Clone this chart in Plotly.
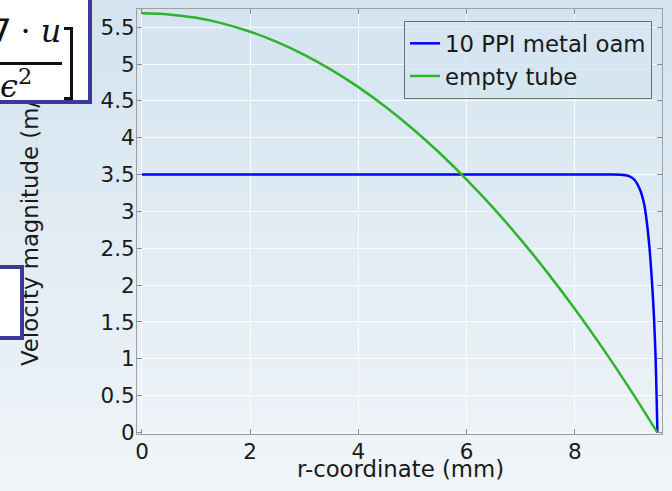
import plotly.graph_objects as go

# ---- data ----
r_tube = [0, 0.5, 1, 1.5, 2, 2.5, 3, 3.5, 4, 4.5, 5, 5.5, 6, 6.5, 7, 7.5, 8, 8.5, 9, 9.5, 9.525]
v_tube = [5.69, 5.674, 5.627, 5.549, 5.439, 5.297, 5.125, 4.921, 4.687, 4.420,
          4.122, 3.793, 3.432, 3.041, 2.618, 2.163, 1.676, 1.159, 0.610, 0.030, 0.0]

r_foam = [0, 8.7, 8.9, 9.0, 9.1, 9.2, 9.28, 9.33, 9.38, 9.42, 9.46, 9.49, 9.51, 9.525]
v_foam = [3.5, 3.5, 3.495, 3.48, 3.43, 3.3, 3.1, 2.85, 2.5, 2.1, 1.6, 1.05, 0.5, 0.0]

series_names = ["10 PPI metal oam", "empty tube"]
x_title = "r-coordinate (mm)"
y_title = "Velocity magnitude (m/s)"
x_ticks = [0, 2, 4, 6, 8]

# ---- layout geometry (pixels) ----
W, H = 672, 491
L, R, T, B = 137, 662, 9, 434
PW, PH = R - L, B - T


def px(x):
    return (x - L) / PW


def py(y):
    return 1 - (y - T) / PH


FONT = "DejaVu Sans"
TXT = "#1a1a1a"
fig = go.Figure()
fig.add_trace(go.Scatter(x=r_foam, y=v_foam, mode="lines", name=series_names[0],
                         line=dict(color="#0000ff", width=2.5, shape="spline", smoothing=0.6)))
fig.add_trace(go.Scatter(x=r_tube, y=v_tube, mode="lines", name=series_names[1],
                         line=dict(color="#2cb52c", width=2.5, shape="spline")))

# background gradient stripes
shapes = []
N = 62
top = (211, 227, 240)
bot = (240, 245, 248)
for i in range(N):
    y0 = H * i / N - 1
    y1 = H * (i + 1) / N + 1
    t = (i + 0.5) / N
    c = tuple(int(round(top[k] + (bot[k] - top[k]) * t)) for k in range(3))
    shapes.append(dict(type="rect", xref="paper", yref="paper", layer="below",
                       x0=px(-5), x1=px(W + 5), y0=py(y1), y1=py(y0),
                       line=dict(width=0), fillcolor="rgb(%d,%d,%d)" % c))

BOX = "#3b3a9c"
ann = []
# axis titles
ann.append(dict(text=y_title, xref="paper", yref="paper", x=px(30), y=py(223),
                textangle=-90, showarrow=False, font=dict(family=FONT, size=22.8, color=TXT),
                xanchor="center", yanchor="middle"))
ann.append(dict(text=x_title, xref="paper", yref="paper", x=px(400), y=py(469),
                showarrow=False, font=dict(family=FONT, size=22.8, color=TXT),
                xanchor="center", yanchor="middle"))
# overlay boxes (annotations so they sit above the title)
ann.append(dict(text=" ", xref="paper", yref="paper", x=px(92), y=py(104),
                xanchor="right", yanchor="bottom", showarrow=False, width=120, height=120,
                bgcolor="white", bordercolor=BOX, borderwidth=4, borderpad=0,
                font=dict(size=2)))
ann.append(dict(text=" ", xref="paper", yref="paper", x=px(24), y=py(265),
                xanchor="right", yanchor="top", showarrow=False, width=40, height=67,
                bgcolor="white", bordercolor=BOX, borderwidth=4, borderpad=0,
                font=dict(size=2)))
# math text inside the first box
ann.append(dict(text="∇ · <i>u</i>", xref="paper", yref="paper", x=px(63), y=py(31),
                xanchor="right", yanchor="middle", showarrow=False,
                font=dict(family="DejaVu Serif", size=32, color="#111")))
ann.append(dict(text="<i>ϵ</i><sup>2</sup>", xref="paper", yref="paper", x=px(34), y=py(84),
                xanchor="right", yanchor="middle", showarrow=False,
                font=dict(family="DejaVu Serif", size=32, color="#111")))


def bar(x0, y0, x1, y1):
    return dict(text=" ", xref="paper", yref="paper", x=px(x0), y=py(y0),
                xanchor="left", yanchor="top", showarrow=False,
                width=max(1, x1 - x0), height=max(1, y1 - y0),
                bgcolor="#111", borderpad=0, borderwidth=0, font=dict(size=1))


ann.append(bar(0, 62, 62, 65))      # fraction bar
ann.append(bar(70, 27, 73, 100))    # bracket vertical
ann.append(bar(64, 27, 73, 30))     # bracket top
ann.append(bar(64, 97, 73, 100))    # bracket bottom

fig.update_layout(
    width=W, height=H,
    margin=dict(l=L, r=W - R, t=T, b=H - B, pad=0),
    paper_bgcolor="rgb(225,236,244)",
    plot_bgcolor="rgba(0,0,0,0)",
    font=dict(family=FONT, size=21.5, color=TXT),
    shapes=shapes,
    annotations=ann,
    showlegend=True,
    legend=dict(x=px(404), y=py(21), xanchor="left", yanchor="top",
                bgcolor="rgba(214,229,241,0.85)", bordercolor="#6f6f6f", borderwidth=1,
                font=dict(family=FONT, size=22.8, color=TXT),
                itemwidth=30, tracegroupgap=0),
    xaxis=dict(range=[-0.092, 9.61], tickvals=x_ticks, ticks="inside", ticklen=5,
               tickcolor="#8a8a8a", showline=True, linecolor="#a0a0a0", linewidth=1,
               mirror="ticks", showgrid=True, gridcolor="rgba(255,255,255,0.85)",
               zeroline=False, ticklabelstandoff=-2,
               tickfont=dict(family=FONT, size=21.5, color=TXT)),
    yaxis=dict(range=[-0.02, 5.747], dtick=0.5, ticks="inside", ticklen=5,
               tickcolor="#8a8a8a", showline=True, linecolor="#a0a0a0", linewidth=1,
               mirror="ticks", showgrid=True, gridcolor="rgba(255,255,255,0.85)",
               zeroline=False, ticklabelstandoff=-3,
               tickfont=dict(family=FONT, size=21.5, color=TXT)),
)

fig.write_html("out.html")
